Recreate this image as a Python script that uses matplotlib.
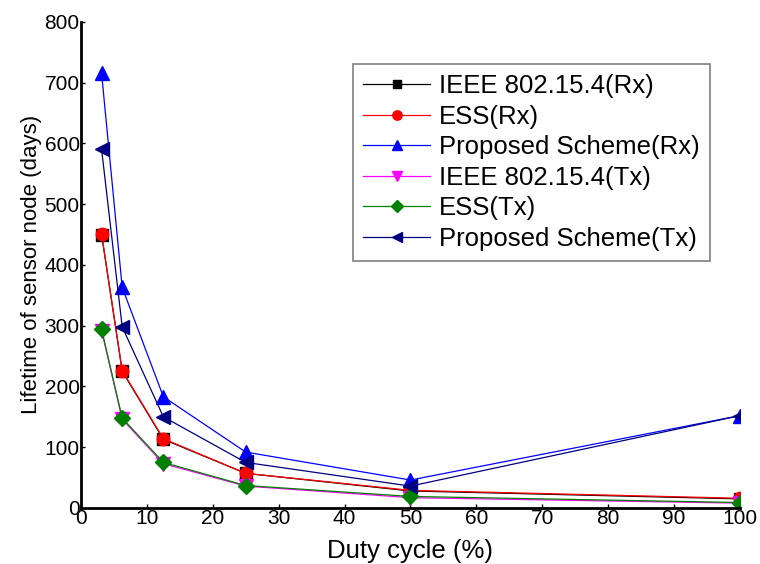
import matplotlib
matplotlib.use("Agg")
import matplotlib.pyplot as plt

plt.rcParams['font.family'] = ['Liberation Sans', 'DejaVu Sans']

# Duty cycle (%)
duty = [3.125, 6.25, 12.5, 25, 50, 100]

# Lifetime of sensor node (days)
ieee_rx = [450, 225, 113, 57, 28, 15]
ess_rx = [451, 226, 114, 57, 29, 16]
prop_rx = [715, 363, 183, 92, 46, 152]
ieee_tx = [292, 146, 73, 36, 17, 8]
ess_tx = [294, 148, 75, 37, 19, 9]
prop_tx = [590, 298, 150, 75, 36, 152]

fig = plt.figure(figsize=(7.6, 5.64), dpi=100)
ax = fig.add_axes([0.1066, 0.0993, 0.867, 0.862])

ms = 9
lw = 0.9
ax.plot(duty, ieee_rx, color='black', marker='s', ms=ms - 1, lw=lw, label='IEEE 802.15.4(Rx)')
ax.plot(duty, ess_rx, color='red', marker='o', ms=ms, lw=lw, label='ESS(Rx)')
ax.plot(duty, prop_rx, color='blue', marker='^', ms=ms + 1, lw=lw, label='Proposed Scheme(Rx)')
ax.plot(duty, ieee_tx, color='magenta', marker='v', ms=ms + 1, lw=lw, label='IEEE 802.15.4(Tx)')
ax.plot(duty, ess_tx, color='green', marker='D', ms=ms - 1, lw=lw, label='ESS(Tx)')
ax.plot(duty, prop_tx, color='navy', marker='<', ms=ms + 1, lw=lw, label='Proposed Scheme(Tx)')

ax.set_xlim(0, 100)
ax.set_ylim(0, 800)
ax.set_xticks(range(0, 101, 10))
ax.set_yticks(range(0, 801, 100))
ax.spines['top'].set_visible(False)
ax.spines['right'].set_visible(False)
ax.spines['left'].set_linewidth(2)
ax.spines['bottom'].set_linewidth(2)
ax.tick_params(labelsize=15, direction='in', length=3, width=1, pad=1)

ax.set_xlabel('Duty cycle (%)', fontsize=18.5, labelpad=8)
ax.set_ylabel('Lifetime of sensor node (days)', fontsize=16, labelpad=2)

leg = ax.legend(loc='upper right', bbox_to_anchor=(0.955, 0.913), fontsize=18.5,
                fancybox=False, edgecolor='grey', framealpha=1,
                handlelength=2.6, handletextpad=0.35, labelspacing=0.25,
                borderpad=0.4, borderaxespad=0, markerscale=0.75)
leg.get_frame().set_linewidth(1.2)

fig.savefig('out.png', dpi=100)
